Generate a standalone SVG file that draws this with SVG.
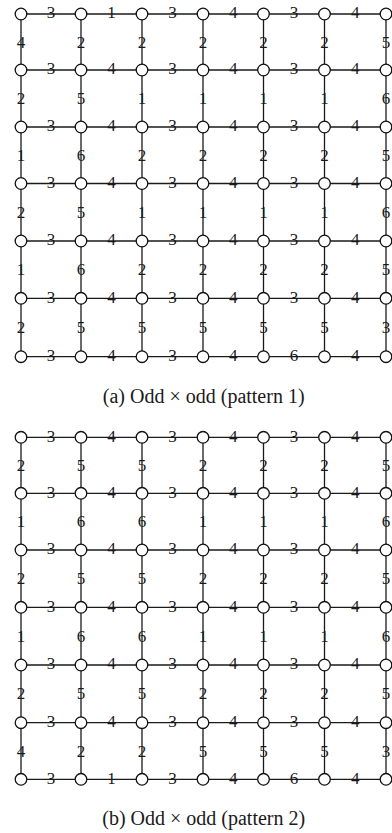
<svg xmlns="http://www.w3.org/2000/svg" width="392" height="833" viewBox="0 0 392 833">
<style>
.e{stroke:#1a1a1a;stroke-width:1.3;fill:none}
.n circle{fill:#fff;stroke:#111;stroke-width:1.3}
.l{font-family:"Liberation Serif",serif;font-size:17px;text-anchor:middle;fill:#1a1a1a}
.c{font-family:"Liberation Serif",serif;font-size:20px;text-anchor:middle;fill:#1a1a1a}
</style>
<rect width="392" height="833" fill="#fff"/>
<g id="connectors">
<g id="conn-a">
<line class="e" x1="21" y1="14" x2="386" y2="14"/>
<line class="e" x1="21" y1="70" x2="386" y2="70"/>
<line class="e" x1="21" y1="127" x2="386" y2="127"/>
<line class="e" x1="21" y1="183.5" x2="386" y2="183.5"/>
<line class="e" x1="21" y1="241" x2="386" y2="241"/>
<line class="e" x1="21" y1="298.3" x2="386" y2="298.3"/>
<line class="e" x1="21" y1="356.7" x2="386" y2="356.7"/>
<line class="e" x1="21" y1="14" x2="21" y2="356.7"/>
<line class="e" x1="81" y1="14" x2="81" y2="356.7"/>
<line class="e" x1="142" y1="14" x2="142" y2="356.7"/>
<line class="e" x1="203" y1="14" x2="203" y2="356.7"/>
<line class="e" x1="263.5" y1="14" x2="263.5" y2="356.7"/>
<line class="e" x1="324.5" y1="14" x2="324.5" y2="356.7"/>
<line class="e" x1="386" y1="14" x2="386" y2="356.7"/>
</g>
<g id="conn-b">
<line class="e" x1="21" y1="437.3" x2="386" y2="437.3"/>
<line class="e" x1="21" y1="493.3" x2="386" y2="493.3"/>
<line class="e" x1="21" y1="550" x2="386" y2="550"/>
<line class="e" x1="21" y1="607.3" x2="386" y2="607.3"/>
<line class="e" x1="21" y1="665" x2="386" y2="665"/>
<line class="e" x1="21" y1="722.7" x2="386" y2="722.7"/>
<line class="e" x1="21" y1="779.3" x2="386" y2="779.3"/>
<line class="e" x1="21" y1="437.3" x2="21" y2="779.3"/>
<line class="e" x1="81" y1="437.3" x2="81" y2="779.3"/>
<line class="e" x1="142" y1="437.3" x2="142" y2="779.3"/>
<line class="e" x1="203" y1="437.3" x2="203" y2="779.3"/>
<line class="e" x1="263.5" y1="437.3" x2="263.5" y2="779.3"/>
<line class="e" x1="324.5" y1="437.3" x2="324.5" y2="779.3"/>
<line class="e" x1="386" y1="437.3" x2="386" y2="779.3"/>
</g>
</g>
<g id="labels-a">
<text class="l" x="51" y="18.3">3</text><text class="l" x="111.5" y="18.3">1</text><text class="l" x="172.5" y="18.3">3</text><text class="l" x="233.25" y="18.3">4</text><text class="l" x="294" y="18.3">3</text><text class="l" x="355.25" y="18.3">4</text>
<text class="l" x="51" y="74.3">3</text><text class="l" x="111.5" y="74.3">4</text><text class="l" x="172.5" y="74.3">3</text><text class="l" x="233.25" y="74.3">4</text><text class="l" x="294" y="74.3">3</text><text class="l" x="355.25" y="74.3">4</text>
<text class="l" x="51" y="131.3">3</text><text class="l" x="111.5" y="131.3">4</text><text class="l" x="172.5" y="131.3">3</text><text class="l" x="233.25" y="131.3">4</text><text class="l" x="294" y="131.3">3</text><text class="l" x="355.25" y="131.3">4</text>
<text class="l" x="51" y="187.8">3</text><text class="l" x="111.5" y="187.8">4</text><text class="l" x="172.5" y="187.8">3</text><text class="l" x="233.25" y="187.8">4</text><text class="l" x="294" y="187.8">3</text><text class="l" x="355.25" y="187.8">4</text>
<text class="l" x="51" y="245.3">3</text><text class="l" x="111.5" y="245.3">4</text><text class="l" x="172.5" y="245.3">3</text><text class="l" x="233.25" y="245.3">4</text><text class="l" x="294" y="245.3">3</text><text class="l" x="355.25" y="245.3">4</text>
<text class="l" x="51" y="302.6">3</text><text class="l" x="111.5" y="302.6">4</text><text class="l" x="172.5" y="302.6">3</text><text class="l" x="233.25" y="302.6">4</text><text class="l" x="294" y="302.6">3</text><text class="l" x="355.25" y="302.6">4</text>
<text class="l" x="51" y="361">3</text><text class="l" x="111.5" y="361">4</text><text class="l" x="172.5" y="361">3</text><text class="l" x="233.25" y="361">4</text><text class="l" x="294" y="361">6</text><text class="l" x="355.25" y="361">4</text>
<text class="l" x="21" y="47.5">4</text><text class="l" x="81" y="47.5">2</text><text class="l" x="142" y="47.5">2</text><text class="l" x="203" y="47.5">2</text><text class="l" x="263.5" y="47.5">2</text><text class="l" x="324.5" y="47.5">2</text><text class="l" x="386" y="47.5">5</text>
<text class="l" x="21" y="104">2</text><text class="l" x="81" y="104">5</text><text class="l" x="142" y="104">1</text><text class="l" x="203" y="104">1</text><text class="l" x="263.5" y="104">1</text><text class="l" x="324.5" y="104">1</text><text class="l" x="386" y="104">6</text>
<text class="l" x="21" y="160.75">1</text><text class="l" x="81" y="160.75">6</text><text class="l" x="142" y="160.75">2</text><text class="l" x="203" y="160.75">2</text><text class="l" x="263.5" y="160.75">2</text><text class="l" x="324.5" y="160.75">2</text><text class="l" x="386" y="160.75">5</text>
<text class="l" x="21" y="217.75">2</text><text class="l" x="81" y="217.75">5</text><text class="l" x="142" y="217.75">1</text><text class="l" x="203" y="217.75">1</text><text class="l" x="263.5" y="217.75">1</text><text class="l" x="324.5" y="217.75">1</text><text class="l" x="386" y="217.75">6</text>
<text class="l" x="21" y="275.15">1</text><text class="l" x="81" y="275.15">6</text><text class="l" x="142" y="275.15">2</text><text class="l" x="203" y="275.15">2</text><text class="l" x="263.5" y="275.15">2</text><text class="l" x="324.5" y="275.15">2</text><text class="l" x="386" y="275.15">5</text>
<text class="l" x="21" y="333">2</text><text class="l" x="81" y="333">5</text><text class="l" x="142" y="333">5</text><text class="l" x="203" y="333">5</text><text class="l" x="263.5" y="333">5</text><text class="l" x="324.5" y="333">5</text><text class="l" x="386" y="333">3</text>
</g>
<g id="labels-b">
<text class="l" x="51" y="441.6">3</text><text class="l" x="111.5" y="441.6">4</text><text class="l" x="172.5" y="441.6">3</text><text class="l" x="233.25" y="441.6">4</text><text class="l" x="294" y="441.6">3</text><text class="l" x="355.25" y="441.6">4</text>
<text class="l" x="51" y="497.6">3</text><text class="l" x="111.5" y="497.6">4</text><text class="l" x="172.5" y="497.6">3</text><text class="l" x="233.25" y="497.6">4</text><text class="l" x="294" y="497.6">3</text><text class="l" x="355.25" y="497.6">4</text>
<text class="l" x="51" y="554.3">3</text><text class="l" x="111.5" y="554.3">4</text><text class="l" x="172.5" y="554.3">3</text><text class="l" x="233.25" y="554.3">4</text><text class="l" x="294" y="554.3">3</text><text class="l" x="355.25" y="554.3">4</text>
<text class="l" x="51" y="611.6">3</text><text class="l" x="111.5" y="611.6">4</text><text class="l" x="172.5" y="611.6">3</text><text class="l" x="233.25" y="611.6">4</text><text class="l" x="294" y="611.6">3</text><text class="l" x="355.25" y="611.6">4</text>
<text class="l" x="51" y="669.3">3</text><text class="l" x="111.5" y="669.3">4</text><text class="l" x="172.5" y="669.3">3</text><text class="l" x="233.25" y="669.3">4</text><text class="l" x="294" y="669.3">3</text><text class="l" x="355.25" y="669.3">4</text>
<text class="l" x="51" y="727">3</text><text class="l" x="111.5" y="727">4</text><text class="l" x="172.5" y="727">3</text><text class="l" x="233.25" y="727">4</text><text class="l" x="294" y="727">3</text><text class="l" x="355.25" y="727">4</text>
<text class="l" x="51" y="783.6">3</text><text class="l" x="111.5" y="783.6">1</text><text class="l" x="172.5" y="783.6">3</text><text class="l" x="233.25" y="783.6">4</text><text class="l" x="294" y="783.6">6</text><text class="l" x="355.25" y="783.6">4</text>
<text class="l" x="21" y="470.8">2</text><text class="l" x="81" y="470.8">5</text><text class="l" x="142" y="470.8">5</text><text class="l" x="203" y="470.8">2</text><text class="l" x="263.5" y="470.8">2</text><text class="l" x="324.5" y="470.8">2</text><text class="l" x="386" y="470.8">5</text>
<text class="l" x="21" y="527.15">1</text><text class="l" x="81" y="527.15">6</text><text class="l" x="142" y="527.15">6</text><text class="l" x="203" y="527.15">1</text><text class="l" x="263.5" y="527.15">1</text><text class="l" x="324.5" y="527.15">1</text><text class="l" x="386" y="527.15">6</text>
<text class="l" x="21" y="584.15">2</text><text class="l" x="81" y="584.15">5</text><text class="l" x="142" y="584.15">5</text><text class="l" x="203" y="584.15">2</text><text class="l" x="263.5" y="584.15">2</text><text class="l" x="324.5" y="584.15">2</text><text class="l" x="386" y="584.15">5</text>
<text class="l" x="21" y="641.65">1</text><text class="l" x="81" y="641.65">6</text><text class="l" x="142" y="641.65">6</text><text class="l" x="203" y="641.65">1</text><text class="l" x="263.5" y="641.65">1</text><text class="l" x="324.5" y="641.65">1</text><text class="l" x="386" y="641.65">6</text>
<text class="l" x="21" y="699.35">2</text><text class="l" x="81" y="699.35">5</text><text class="l" x="142" y="699.35">5</text><text class="l" x="203" y="699.35">2</text><text class="l" x="263.5" y="699.35">2</text><text class="l" x="324.5" y="699.35">2</text><text class="l" x="386" y="699.35">5</text>
<text class="l" x="21" y="756.5">4</text><text class="l" x="81" y="756.5">2</text><text class="l" x="142" y="756.5">2</text><text class="l" x="203" y="756.5">5</text><text class="l" x="263.5" y="756.5">5</text><text class="l" x="324.5" y="756.5">5</text><text class="l" x="386" y="756.5">3</text>
</g>
<g id="nodes-a" class="n">
<g id="a-r0-c0"><circle cx="21" cy="14" r="5.8"/></g><g id="a-r0-c1"><circle cx="81" cy="14" r="5.8"/></g><g id="a-r0-c2"><circle cx="142" cy="14" r="5.8"/></g><g id="a-r0-c3"><circle cx="203" cy="14" r="5.8"/></g><g id="a-r0-c4"><circle cx="263.5" cy="14" r="5.8"/></g><g id="a-r0-c5"><circle cx="324.5" cy="14" r="5.8"/></g><g id="a-r0-c6"><circle cx="386" cy="14" r="5.8"/></g>
<g id="a-r1-c0"><circle cx="21" cy="70" r="5.8"/></g><g id="a-r1-c1"><circle cx="81" cy="70" r="5.8"/></g><g id="a-r1-c2"><circle cx="142" cy="70" r="5.8"/></g><g id="a-r1-c3"><circle cx="203" cy="70" r="5.8"/></g><g id="a-r1-c4"><circle cx="263.5" cy="70" r="5.8"/></g><g id="a-r1-c5"><circle cx="324.5" cy="70" r="5.8"/></g><g id="a-r1-c6"><circle cx="386" cy="70" r="5.8"/></g>
<g id="a-r2-c0"><circle cx="21" cy="127" r="5.8"/></g><g id="a-r2-c1"><circle cx="81" cy="127" r="5.8"/></g><g id="a-r2-c2"><circle cx="142" cy="127" r="5.8"/></g><g id="a-r2-c3"><circle cx="203" cy="127" r="5.8"/></g><g id="a-r2-c4"><circle cx="263.5" cy="127" r="5.8"/></g><g id="a-r2-c5"><circle cx="324.5" cy="127" r="5.8"/></g><g id="a-r2-c6"><circle cx="386" cy="127" r="5.8"/></g>
<g id="a-r3-c0"><circle cx="21" cy="183.5" r="5.8"/></g><g id="a-r3-c1"><circle cx="81" cy="183.5" r="5.8"/></g><g id="a-r3-c2"><circle cx="142" cy="183.5" r="5.8"/></g><g id="a-r3-c3"><circle cx="203" cy="183.5" r="5.8"/></g><g id="a-r3-c4"><circle cx="263.5" cy="183.5" r="5.8"/></g><g id="a-r3-c5"><circle cx="324.5" cy="183.5" r="5.8"/></g><g id="a-r3-c6"><circle cx="386" cy="183.5" r="5.8"/></g>
<g id="a-r4-c0"><circle cx="21" cy="241" r="5.8"/></g><g id="a-r4-c1"><circle cx="81" cy="241" r="5.8"/></g><g id="a-r4-c2"><circle cx="142" cy="241" r="5.8"/></g><g id="a-r4-c3"><circle cx="203" cy="241" r="5.8"/></g><g id="a-r4-c4"><circle cx="263.5" cy="241" r="5.8"/></g><g id="a-r4-c5"><circle cx="324.5" cy="241" r="5.8"/></g><g id="a-r4-c6"><circle cx="386" cy="241" r="5.8"/></g>
<g id="a-r5-c0"><circle cx="21" cy="298.3" r="5.8"/></g><g id="a-r5-c1"><circle cx="81" cy="298.3" r="5.8"/></g><g id="a-r5-c2"><circle cx="142" cy="298.3" r="5.8"/></g><g id="a-r5-c3"><circle cx="203" cy="298.3" r="5.8"/></g><g id="a-r5-c4"><circle cx="263.5" cy="298.3" r="5.8"/></g><g id="a-r5-c5"><circle cx="324.5" cy="298.3" r="5.8"/></g><g id="a-r5-c6"><circle cx="386" cy="298.3" r="5.8"/></g>
<g id="a-r6-c0"><circle cx="21" cy="356.7" r="5.8"/></g><g id="a-r6-c1"><circle cx="81" cy="356.7" r="5.8"/></g><g id="a-r6-c2"><circle cx="142" cy="356.7" r="5.8"/></g><g id="a-r6-c3"><circle cx="203" cy="356.7" r="5.8"/></g><g id="a-r6-c4"><circle cx="263.5" cy="356.7" r="5.8"/></g><g id="a-r6-c5"><circle cx="324.5" cy="356.7" r="5.8"/></g><g id="a-r6-c6"><circle cx="386" cy="356.7" r="5.8"/></g>
</g>
<g id="nodes-b" class="n">
<g id="b-r0-c0"><circle cx="21" cy="437.3" r="5.8"/></g><g id="b-r0-c1"><circle cx="81" cy="437.3" r="5.8"/></g><g id="b-r0-c2"><circle cx="142" cy="437.3" r="5.8"/></g><g id="b-r0-c3"><circle cx="203" cy="437.3" r="5.8"/></g><g id="b-r0-c4"><circle cx="263.5" cy="437.3" r="5.8"/></g><g id="b-r0-c5"><circle cx="324.5" cy="437.3" r="5.8"/></g><g id="b-r0-c6"><circle cx="386" cy="437.3" r="5.8"/></g>
<g id="b-r1-c0"><circle cx="21" cy="493.3" r="5.8"/></g><g id="b-r1-c1"><circle cx="81" cy="493.3" r="5.8"/></g><g id="b-r1-c2"><circle cx="142" cy="493.3" r="5.8"/></g><g id="b-r1-c3"><circle cx="203" cy="493.3" r="5.8"/></g><g id="b-r1-c4"><circle cx="263.5" cy="493.3" r="5.8"/></g><g id="b-r1-c5"><circle cx="324.5" cy="493.3" r="5.8"/></g><g id="b-r1-c6"><circle cx="386" cy="493.3" r="5.8"/></g>
<g id="b-r2-c0"><circle cx="21" cy="550" r="5.8"/></g><g id="b-r2-c1"><circle cx="81" cy="550" r="5.8"/></g><g id="b-r2-c2"><circle cx="142" cy="550" r="5.8"/></g><g id="b-r2-c3"><circle cx="203" cy="550" r="5.8"/></g><g id="b-r2-c4"><circle cx="263.5" cy="550" r="5.8"/></g><g id="b-r2-c5"><circle cx="324.5" cy="550" r="5.8"/></g><g id="b-r2-c6"><circle cx="386" cy="550" r="5.8"/></g>
<g id="b-r3-c0"><circle cx="21" cy="607.3" r="5.8"/></g><g id="b-r3-c1"><circle cx="81" cy="607.3" r="5.8"/></g><g id="b-r3-c2"><circle cx="142" cy="607.3" r="5.8"/></g><g id="b-r3-c3"><circle cx="203" cy="607.3" r="5.8"/></g><g id="b-r3-c4"><circle cx="263.5" cy="607.3" r="5.8"/></g><g id="b-r3-c5"><circle cx="324.5" cy="607.3" r="5.8"/></g><g id="b-r3-c6"><circle cx="386" cy="607.3" r="5.8"/></g>
<g id="b-r4-c0"><circle cx="21" cy="665" r="5.8"/></g><g id="b-r4-c1"><circle cx="81" cy="665" r="5.8"/></g><g id="b-r4-c2"><circle cx="142" cy="665" r="5.8"/></g><g id="b-r4-c3"><circle cx="203" cy="665" r="5.8"/></g><g id="b-r4-c4"><circle cx="263.5" cy="665" r="5.8"/></g><g id="b-r4-c5"><circle cx="324.5" cy="665" r="5.8"/></g><g id="b-r4-c6"><circle cx="386" cy="665" r="5.8"/></g>
<g id="b-r5-c0"><circle cx="21" cy="722.7" r="5.8"/></g><g id="b-r5-c1"><circle cx="81" cy="722.7" r="5.8"/></g><g id="b-r5-c2"><circle cx="142" cy="722.7" r="5.8"/></g><g id="b-r5-c3"><circle cx="203" cy="722.7" r="5.8"/></g><g id="b-r5-c4"><circle cx="263.5" cy="722.7" r="5.8"/></g><g id="b-r5-c5"><circle cx="324.5" cy="722.7" r="5.8"/></g><g id="b-r5-c6"><circle cx="386" cy="722.7" r="5.8"/></g>
<g id="b-r6-c0"><circle cx="21" cy="779.3" r="5.8"/></g><g id="b-r6-c1"><circle cx="81" cy="779.3" r="5.8"/></g><g id="b-r6-c2"><circle cx="142" cy="779.3" r="5.8"/></g><g id="b-r6-c3"><circle cx="203" cy="779.3" r="5.8"/></g><g id="b-r6-c4"><circle cx="263.5" cy="779.3" r="5.8"/></g><g id="b-r6-c5"><circle cx="324.5" cy="779.3" r="5.8"/></g><g id="b-r6-c6"><circle cx="386" cy="779.3" r="5.8"/></g>
</g>
<g id="captions">
<text class="c" x="203.7" y="403">(a)  Odd × odd (pattern 1)</text>
<text class="c" x="203.7" y="825">(b)  Odd × odd (pattern 2)</text>
</g>
</svg>
